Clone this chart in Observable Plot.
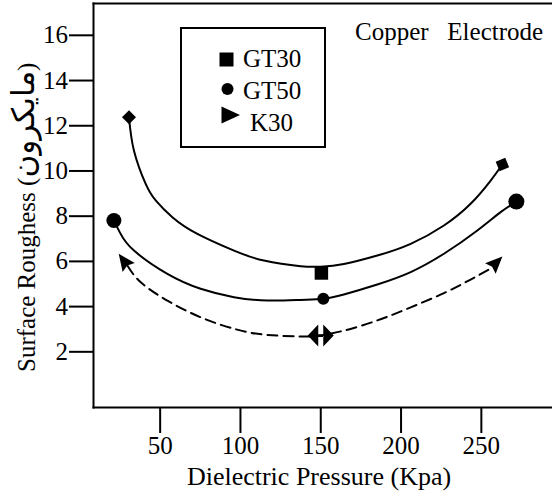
<!DOCTYPE html>
<html><head><meta charset="utf-8">
<script src="https://cdn.jsdelivr.net/npm/d3@7"></script>
<script src="https://cdn.jsdelivr.net/npm/@observablehq/plot@0.6"></script>
<style>
html,body{margin:0;padding:0;background:#fff;overflow:hidden;}
#chart{position:relative;width:552px;height:498px;}
</style></head><body><div id="chart"></div>
<script>
// ---- data ----
const xTicks = [50, 100, 150, 200, 250];
const yTicks = [2, 4, 6, 8, 10, 12, 14, 16];

const gt30X = [30.6, 33.7, 41.0, 47.2, 57.6, 73.2, 96.0, 114.6, 137.5, 149.9, 164.4, 185.2, 206.0, 226.7, 243.3, 255.8, 263.1];
const gt30Y = [12.51, 11.03, 9.56, 8.83, 8.09, 7.35, 6.61, 6.17, 5.92, 5.90, 6.02, 6.39, 6.91, 7.72, 8.68, 9.71, 10.42];
const gt30MarkX = [30.6, 150.4, 263.1];
const gt30MarkY = [12.51, 5.62, 10.42];

const gt50X = [21.2, 25.4, 33.7, 54.5, 75.2, 96.0, 116.8, 137.5, 151.6, 164.4, 185.2, 206.0, 226.7, 247.5, 262.0, 271.8];
const gt50Y = [7.94, 7.35, 6.61, 5.58, 4.92, 4.55, 4.40, 4.43, 4.48, 4.67, 5.11, 5.66, 6.47, 7.50, 8.31, 8.78];
const gt50MarkX = [21.2, 151.6, 271.8];
const gt50MarkY = [7.94, 4.48, 8.78];

const k30X = [29.8, 37.9, 54.5, 75.2, 96.0, 116.8, 141.7, 150.0, 164.4, 185.2, 206.0, 226.7, 243.3, 256.4];
const k30Y = [5.93, 5.21, 4.40, 3.66, 3.15, 2.88, 2.81, 2.85, 3.07, 3.52, 4.10, 4.73, 5.33, 5.84];
const k30TipX = [24.2, 263.1];
const k30TipY = [6.47, 6.35];
const k30MidX = [150.0];
const k30MidY = [2.85];

const seriesNames = ["GT30", "GT50", "K30"];
const xTitle = "Dielectric Pressure (Kpa)";
const yTitleLatin = "Surface Roughess ";
const yTitleUnit = "مایکرون";
const note = "Copper\u00a0\u00a0\u00a0Electrode";

// ---- build tables ----
const toRows = (xs, ys) => xs.map((x, i) => ({x, y: ys[i]}));
const gt30 = toRows(gt30X, gt30Y), gt50 = toRows(gt50X, gt50Y), k30 = toRows(k30X, k30Y);
const gt30M = toRows(gt30MarkX, gt30MarkY), gt50M = toRows(gt50MarkX, gt50MarkY);
const k30Tips = toRows(k30TipX, k30TipY), k30Mid = toRows(k30MidX, k30MidY);

// custom symbols
const arrowHead = {draw(c) { c.moveTo(0, 0); c.lineTo(7.5, 17); c.lineTo(0, 14.5); c.lineTo(-7.5, 17); c.closePath(); }};
const doubleArrow = {draw(c) {
  c.moveTo(-13, 0); c.lineTo(-2.5, -11); c.lineTo(-2.5, 11); c.closePath();
  c.moveTo(13, 0); c.lineTo(2.5, -11); c.lineTo(2.5, 11); c.closePath();
  c.rect(-3, -1.3, 6, 2.6);
}};

const FONT = "'Liberation Serif', 'Times New Roman', Times, 'DejaVu Sans', serif";

const svg = Plot.plot({
  width: 552, height: 498,
  marginLeft: 93, marginRight: 0, marginTop: 3, marginBottom: 91,
  style: {fontFamily: FONT, fontSize: "25px", color: "#000", background: "#fff", overflow: "visible"},
  x: {domain: [8.5, 294.3]},
  y: {domain: [-0.33, 17.54]},
  marks: [
    Plot.axisX({ticks: xTicks, tickSize: 26, tickPadding: 3, strokeWidth: 2, label: null, tickFormat: d => String(d)}),
    Plot.axisY({ticks: yTicks, tickSize: 24, tickPadding: 1.5, strokeWidth: 2, dy: -3, label: null, tickFormat: d => String(d)}),
    Plot.frame({anchor: "left", strokeWidth: 2}),
    Plot.frame({anchor: "top", strokeWidth: 2}),
    Plot.frame({anchor: "bottom", strokeWidth: 2}),
    Plot.line(gt30, {x: "x", y: "y", curve: "natural", stroke: "#000", strokeWidth: 2}),
    Plot.line(gt50, {x: "x", y: "y", curve: "natural", stroke: "#000", strokeWidth: 2}),
    Plot.line(k30, {x: "x", y: "y", curve: "natural", stroke: "#000", strokeWidth: 2, strokeDasharray: "10,6"}),
    // GT30 markers
    Plot.dot([gt30M[0]], {x: "x", y: "y", symbol: "square", r: 5.6, rotate: 45, fill: "#000"}),
    Plot.dot([gt30M[1]], {x: "x", y: "y", symbol: "square", r: 7.6, fill: "#000"}),
    Plot.dot([gt30M[2]], {x: "x", y: "y", symbol: "square", r: 5.8, rotate: -22, fill: "#000"}),
    // GT50 markers
    Plot.dot([gt50M[0]], {x: "x", y: "y", r: 7.5, fill: "#000"}),
    Plot.dot([gt50M[1]], {x: "x", y: "y", r: 6, fill: "#000"}),
    Plot.dot([gt50M[2]], {x: "x", y: "y", r: 8, fill: "#000"}),
    // K30 arrowheads and middle marker
    Plot.dot([k30Tips[0]], {x: "x", y: "y", symbol: arrowHead, r: 5, rotate: -36, fill: "#000"}),
    Plot.dot([k30Tips[1]], {x: "x", y: "y", symbol: arrowHead, r: 5, rotate: 45, fill: "#000"}),
    Plot.dot(k30Mid, {x: "x", y: "y", symbol: doubleArrow, r: 5, fill: "#000"})
  ]
});
document.getElementById("chart").appendChild(svg);

const s = d3.select(svg);
const txt = (x, y, t, anchor = "start") => s.append("text").attr("x", x).attr("y", y)
  .attr("text-anchor", anchor).attr("fill", "#000").style("font-family", FONT).style("font-size", "25px").text(t);

// axis titles
txt(319, 485, xTitle, "middle").style("font-size", "26px");
const yt = s.append("text").attr("transform", "translate(35,372) rotate(-90)").attr("text-anchor", "start")
  .attr("fill", "#000").style("font-family", FONT).style("font-size", "25px");
yt.append("tspan").text(yTitleLatin + "(");
yt.append("tspan").style("font-family", "'DejaVu Sans', sans-serif").style("font-size", "31px")
  .attr("dy", -1).text(yTitleUnit);
yt.append("tspan").attr("dy", 1).text(")");

// annotation
txt(355, 40, note);

// legend
const lg = s.append("g");
lg.append("rect").attr("x", 181).attr("y", 28).attr("width", 144).attr("height", 119)
  .attr("fill", "none").attr("stroke", "#000").attr("stroke-width", 2);
lg.append("rect").attr("x", 219.5).attr("y", 52.5).attr("width", 14).attr("height", 14).attr("fill", "#000");
lg.append("circle").attr("cx", 227.5).attr("cy", 89).attr("r", 6).attr("fill", "#000");
lg.append("path").attr("d", "M221.5,106.5L240,115L221.5,123.5Z").attr("fill", "#000");
txt(243, 66.7, seriesNames[0]);
txt(243, 99.3, seriesNames[1]);
txt(250, 131, seriesNames[2]);
</script>
</body></html>
